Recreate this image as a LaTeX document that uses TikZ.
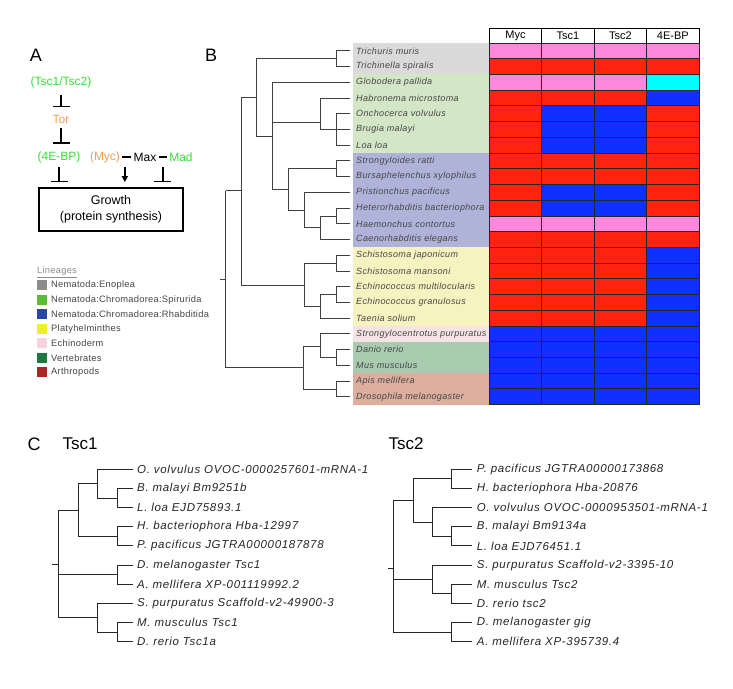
\documentclass[tikz,border=0pt]{standalone}
\usepackage{fontspec}
\setmainfont{Liberation Sans}
\newfontfamily\spfont[LetterSpace=4]{Liberation Sans}
\newfontfamily\clfont[LetterSpace=6]{Liberation Sans}
\newfontfamily\lgfont[LetterSpace=3]{Liberation Sans}
\usetikzlibrary{arrows.meta,calc,patterns}
\definecolor{cgreen}{RGB}{60,220,60}
\definecolor{corange}{RGB}{240,160,80}
\definecolor{cP}{RGB}{255,136,221}
\definecolor{cR}{RGB}{255,36,16}
\definecolor{cB}{RGB}{16,48,255}
\definecolor{cC}{RGB}{0,255,255}
\definecolor{bGray}{RGB}{218,218,218}
\definecolor{bGreen}{RGB}{211,230,198}
\definecolor{bLav}{RGB}{175,179,218}
\definecolor{bYel}{RGB}{246,243,192}
\definecolor{bPink}{RGB}{246,228,228}
\definecolor{bGreenB}{RGB}{169,203,176}
\definecolor{bSalm}{RGB}{220,174,158}
\definecolor{lGray}{RGB}{140,140,140}
\definecolor{lGreen}{RGB}{93,187,58}
\definecolor{lBlue}{RGB}{42,71,168}
\definecolor{lYel}{RGB}{240,240,32}
\definecolor{lPink}{RGB}{248,214,226}
\definecolor{lPinkD}{RGB}{230,160,185}
\definecolor{lDGreen}{RGB}{26,122,64}
\definecolor{lRed}{RGB}{168,40,40}
\definecolor{txtGray}{RGB}{70,70,70}
\begin{document}
\begin{tikzpicture}[x=1pt,y=-1pt,
  pa/.style={inner sep=0pt, font=\fontsize{12}{14}\selectfont},
  inh/.style={line width=1.6pt, -{Bar[width=17pt]}},
  act/.style={line width=1.6pt, -{Triangle[width=6pt,length=6pt]}},
  bond/.style={line width=1.8pt, shorten <=2pt, shorten >=2pt},
  treeB/.style={draw=black!75, line width=1pt},
  treeC/.style={draw=black!85, line width=0.9pt},
  sp/.style={anchor=west, inner sep=0pt, text=txtGray, font=\spfont\itshape\fontsize{9}{10}\selectfont},
  cl/.style={anchor=west, inner sep=0pt, text=black!85, font=\clfont\itshape\fontsize{11.5}{13}\selectfont},
  lg/.style={anchor=west, inner sep=0pt, text=txtGray, font=\lgfont\fontsize{9.3}{11}\selectfont},
  lsq/.style={minimum size=10pt, inner sep=0pt},
  cell/.style={draw=black!85, line width=0.8pt},
  hdr/.style={draw=black, line width=0.8pt, minimum width=52.43pt, minimum height=15pt, inner sep=0pt, font=\fontsize{11}{12}\selectfont},
  panel/.style={inner sep=0pt, font=\fontsize{18}{20}\selectfont}
]
\useasboundingbox (0,0) rectangle (733,688);
\fill[white] (0,0) rectangle (733,688);

% ---------- Panel A ----------
\node[panel] (lA) at (36,55) {A};
\node[panel] (lB) at (211,55) {B};
\node[pa, text=cgreen] (tsc) at (61,82) {(Tsc1/Tsc2)};
\node[pa, text=corange] (tor) at (61,119) {Tor};
\node[pa, text=cgreen] (ebp) at (59,157) {(4E-BP)};
\node[pa, text=corange] (myc) at (105,157) {(Myc)};
\node[pa] (max) at (145,157) {Max};
\node[pa, text=cgreen] (mad) at (181,157) {Mad};
\node[draw, line width=1.8pt, minimum width=144pt, minimum height=43pt, align=center, inner sep=0pt,
  font=\fontsize{12.5}{16}\selectfont] (grow) at (111,209.5) {Growth\\(protein synthesis)};
\draw[inh] ([yshift=-7pt]tor.north |- tsc.south) -- ([yshift=7.5pt]tor.north);
\draw[inh] ([yshift=-4.7pt]tor.south) -- ([yshift=7.4pt]tor.south |- ebp.north);
\draw[inh] ([yshift=-4.4pt]ebp.south) -- ([yshift=5pt]ebp.south |- grow.north);
\draw[bond] (myc.east) -- (max.west);
\draw[bond] (max.east) -- (mad.west);
\coordinate (d1) at ($(myc.east)!0.35!(max.west)$);
\coordinate (d2) at ($(max.east)!0.5!(mad.west)$);
\draw[act, shorten >=5pt] ([yshift=-10pt]d1) -- (d1 |- grow.north);
\draw[inh] ([yshift=-10pt]d2) -- ([yshift=5pt]d2 |- grow.north);

% ---------- Legend ----------
\node[lg, text=lGray] (lin) at (37,272.5) {\underline{Lineages}};
\node[lsq, fill=lGray] (q1) at (42,285) {};
\node[lsq, fill=lGreen] (q2) at (42,300) {};
\node[lsq, fill=lBlue] (q3) at (42,314) {};
\node[lsq, fill=lYel] (q4) at (42,329) {};
\node[lsq, preaction={fill=lPink}, pattern=dots, pattern color=lPinkD] (q5) at (42,343) {};
\node[lsq, fill=lDGreen] (q6) at (42,358) {};
\node[lsq, fill=lRed] (q7) at (42,372) {};
\node[lg] (t1) at (51,285) {Nematoda:Enoplea};
\node[lg] (t2) at (51,300) {Nematoda:Chromadorea:Spirurida};
\node[lg] (t3) at (51,314) {Nematoda:Chromadorea:Rhabditida};
\node[lg] (t4) at (51,329) {Platyhelminthes};
\node[lg] (t5) at (51,343) {Echinoderm};
\node[lg] (t6) at (51,358) {Vertebrates};
\node[lg] (t7) at (51,372) {Arthropods};

% ---------- Panel B bands ----------
\fill[bGray] (353,43) rectangle (489.3,74.44);
\fill[bGreen] (353,74.44) rectangle (489.3,153.04);
\fill[bLav] (353,153.04) rectangle (489.3,247.36);
\fill[bYel] (353,247.36) rectangle (489.3,325.96);
\fill[bPink] (353,325.96) rectangle (489.3,341.68);
\fill[bGreenB] (353,341.68) rectangle (489.3,373.12);
\fill[bSalm] (353,373.12) rectangle (489.3,404.56);

\foreach \i/\nm in {1/Trichuris muris, 2/Trichinella spiralis, 3/Globodera pallida,
  4/Habronema microstoma, 5/Onchocerca volvulus, 6/Brugia malayi, 7/Loa loa,
  8/Strongyloides ratti, 9/Bursaphelenchus xylophilus, 10/Pristionchus pacificus,
  11/Heterorhabditis bacteriophora, 12/Haemonchus contortus, 13/Caenorhabditis elegans,
  14/Schistosoma japonicum, 15/Schistosoma mansoni, 16/Echinococcus multilocularis,
  17/Echinococcus granulosus, 18/Taenia solium, 19/Strongylocentrotus purpuratus,
  20/Danio rerio, 21/Mus musculus, 22/Apis mellifera, 23/Drosophila melanogaster}
  { \node[sp] (s\i) at (356,{50.9+(\i-1)*15.72}) {\nm}; }

% ---------- Grid ----------
\node[hdr] (hMyc) at (515.5,35.5) {Myc};
\node[hdr] (hTsc1) at (567.9,35.5) {Tsc1};
\node[hdr] (hTsc2) at (620.4,35.5) {Tsc2};
\node[hdr] (hEBP) at (672.8,35.5) {4E-BP};
\foreach \i/\row in {1/{P,P,P,P},2/{R,R,R,R},3/{P,P,P,C},4/{R,R,R,B},5/{R,B,B,R},
  6/{R,B,B,R},7/{R,B,B,R},8/{R,R,R,R},9/{R,R,R,R},10/{R,B,B,R},11/{R,B,B,R},
  12/{P,P,P,P},13/{R,R,R,R},14/{R,R,R,B},15/{R,R,R,B},16/{R,R,R,B},17/{R,R,R,B},
  18/{R,R,R,B},19/{B,B,B,B},20/{B,B,B,B},21/{B,B,B,B},22/{B,B,B,B},23/{B,B,B,B}}
{
  \foreach \c [count=\j] in \row {
    \draw[cell, fill=c\c] ({489.3+(\j-1)*52.43},{43+(\i-1)*15.72}) rectangle ++(52.43,15.72);
  }
}

% ---------- Tree B ----------
\begin{scope}[treeB]
\draw (350,50.9) -| (336,66.6) -- (350,66.6);
\draw (256,58.8) -- (336,58.8);
\draw (241,97) -| (256,136.7) -- (272,136.7);
\draw (256,58.8) -- (256,97);
\draw (350,82.3) -| (272,189) -- (288,189);
\draw (272,122) -- (320,122);
\draw (350,98.1) -| (320,129.5) -- (350,129.5);
\draw (350,113.8) -| (336,145.2) -- (350,145.2);
\draw (350,160.9) -| (336,176.7) -- (350,176.7);
\draw (336,168.8) -| (288,210) -- (304,210);
\draw (350,192.4) -| (304,227.7) -- (320,227.7);
\draw (350,208.1) -| (336,223.8) -- (350,223.8);
\draw (336,216) -| (320,239.5) -- (350,239.5);
\draw (225.7,190.7) -| (241,285) -- (304,285);
\draw (241,97) -- (241,190.7);
\draw (350,255.3) -| (336,271.0) -- (350,271.0);
\draw (336,263.1) -| (304,306) -- (320,306);
\draw (350,286.7) -| (336,302.4) -- (350,302.4);
\draw (336,294.5) -| (320,318.1) -- (350,318.1);
\draw (220,279) -- (225.7,279);
\draw (225.7,190.7) |- (303,367);
\draw (320,346) -| (303,389) -- (336,389);
\draw (350,333.9) -| (320,357.5) -- (336,357.5);
\draw (350,349.6) -| (336,365.3) -- (350,365.3);
\draw (350,381.0) -| (336,396.7) -- (350,396.7);
\end{scope}

% ---------- Panel C ----------
\node[panel] (lC) at (34,444) {C};
\node[inner sep=0pt, font=\fontsize{17}{19}\selectfont] (ttl1) at (80,444) {Tsc1};
\node[inner sep=0pt, font=\fontsize{17}{19}\selectfont] (ttl2) at (406,444) {Tsc2};

\foreach \k/\nm in {1/O. volvulus OVOC-0000257601-mRNA-1, 2/B. malayi Bm9251b, 3/L. loa EJD75893.1,
  4/H. bacteriophora Hba-12997, 5/P. pacificus JGTRA00000187878, 6/D. melanogaster Tsc1,
  7/A. mellifera XP-001119992.2, 8/S. purpuratus Scaffold-v2-49900-3, 9/M. musculus Tsc1, 10/D. rerio Tsc1a}
  { \node[cl] (a\k) at (137,{469.3+(\k-1)*19.15}) {\nm}; }
\foreach \k/\nm in {1/P. pacificus JGTRA00000173868, 2/H. bacteriophora Hba-20876, 3/O. volvulus OVOC-0000953501-mRNA-1,
  4/B. malayi Bm9134a, 5/L. loa EJD76451.1, 6/S. purpuratus Scaffold-v2-3395-10,
  7/M. musculus Tsc2, 8/D. rerio tsc2, 9/D. melanogaster gig, 10/A. mellifera XP-395739.4}
  { \node[cl] (b\k) at (476.7,{469.3+(\k-1)*19.15}) {\nm}; }

\begin{scope}[treeC]
\draw (133,488.45) -| (117,507.6) -- (133,507.6);
\draw (133,469.3) -| (97,498) -- (117,498);
\draw (133,526.75) -| (117,545.9) -- (133,545.9);
\draw (97,483.7) -| (78,536.3) -- (117,536.3);
\draw (133,565.05) -| (117,584.2) -- (133,584.2);
\draw (133,622.5) -| (117,641.65) -- (133,641.65);
\draw (133,603.35) -| (97,632.1) -- (117,632.1);
\draw (78,510) -| (58,617.7) -- (97,617.7);
\draw (58,574.6) -- (117,574.6);
\draw (52,564) -- (58,564);

\draw (471.7,469.3) -| (451.7,488.45) -- (471.7,488.45);
\draw (471.7,526.75) -| (451.7,545.9) -- (471.7,545.9);
\draw (471.7,507.6) -| (432.7,536.3) -- (451.7,536.3);
\draw (451.7,478.9) -| (413.3,522) -- (432.7,522);
\draw (471.7,584.2) -| (451.7,603.35) -- (471.7,603.35);
\draw (471.7,565.05) -| (432.7,593.8) -- (451.7,593.8);
\draw (471.7,622.5) -| (451.7,641.65) -- (471.7,641.65);
\draw (413.3,500.4) -| (393.3,632.1) -- (451.7,632.1);
\draw (393.3,579.4) -- (432.7,579.4);
\draw (388,568) -- (393.3,568);
\end{scope}
\end{tikzpicture}
\end{document}
